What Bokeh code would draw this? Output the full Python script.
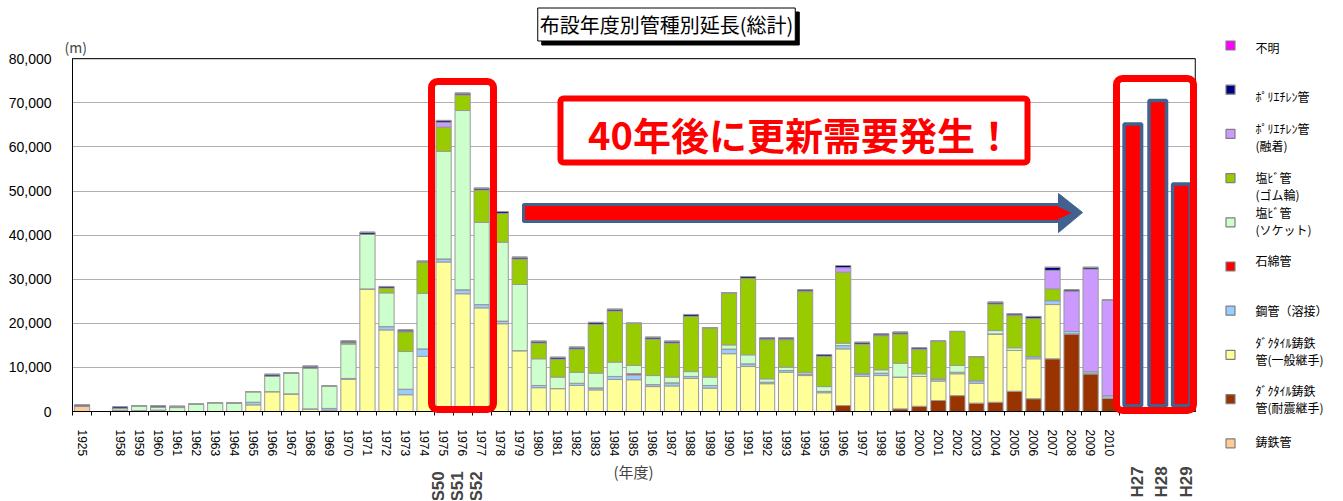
import math
from bokeh.plotting import figure
from bokeh.models import (ColumnDataSource, FixedTicker, SingleIntervalTicker,
                          NumeralTickFormatter, Label, BoxAnnotation, Range1d)
from bokeh.core.properties import value
from bokeh.embed import file_html
from bokeh.resources import INLINE

# ---------------- data ----------------
years = ["1925", ""] + [str(y) for y in range(1958, 2011)]

series_names = ["鋳鉄管", "ﾀﾞｸﾀｲﾙ鋳鉄管(耐震継手)", "ﾀﾞｸﾀｲﾙ鋳鉄管(一般継手)", "鋼管（溶接）",
                "石綿管", "塩ﾋﾞ管(ソケット)", "塩ﾋﾞ管(ゴム輪)", "ﾎﾟﾘｴﾁﾚﾝ管(融着)",
                "ﾎﾟﾘｴﾁﾚﾝ管", "不明"]
colors = ["#FFCC99", "#993300", "#FFFF99", "#99CCFF", "#FF0000",
          "#CCFFCC", "#99CC00", "#CC99FF", "#000080", "#FF00FF"]

# values per year (m), order of years list
cast_iron = [1200, 0, 300, 200, 300] + [0] * 50
ductile_seismic = [0] * 40 + [1350, 0, 0, 600, 1200, 2500, 3600, 1900, 2100, 4600,
                              2900, 11950, 17600, 8550, 3000]
ductile_general = [0, 0, 0, 0, 0, 0, 0, 0, 0, 1500,
                   4500, 4000, 600, 300, 7300, 27800, 18500, 3800, 12500, 33900,
                   26700, 23500, 19900, 13800, 5400, 5200, 5900, 4900, 7250, 7200,
                   5650, 5800, 7500, 5300, 13100, 10200, 6300, 8900, 8150, 4250,
                   12850, 7950, 8150, 7200, 6750, 4400, 4950, 4500, 15500, 9250,
                   9050, 12300, 0, 0, 0]
steel = [0, 0, 0, 0, 0, 0, 0, 0, 0, 600,
         0, 0, 0, 400, 200, 0, 750, 1250, 1700, 700,
         900, 750, 600, 0, 500, 0, 500, 450, 700, 1100,
         450, 700, 450, 600, 1050, 600, 350, 400, 350, 300,
         750, 600, 550, 0, 0, 500, 350, 600, 0, 0,
         500, 900, 550, 500, 600]
asbestos = [0] * 29 + [300] + [0] * 25
pvc_socket = [0, 0, 400, 1100, 700, 900, 1650, 2000, 1900, 2400,
              3550, 4750, 9300, 5100, 7800, 12400, 7650, 8550, 12600, 24400,
              40650, 18650, 17900, 15000, 6050, 2600, 2500, 3350, 3250, 1850,
              2050, 1300, 1100, 1900, 950, 2050, 750, 750, 400, 1100,
              550, 0, 750, 3150, 600, 0, 1550, 0, 750, 600,
              0, 0, 0, 0, 0]
pvc_rubber = [0] * 14 + [300, 0, 1100, 4500, 7000, 5500,
                         3550, 7350, 6550, 5800, 3600, 4100, 5300, 11100, 11600, 9550,
                         8300, 7750, 12550, 11200, 11800, 17350, 8900, 6250, 18300, 6850,
                         16100, 6750, 7750, 6650, 5500, 8550, 7700, 5450, 6050, 7300,
                         8700, 2650, 0, 0, 0]
pe_fused = [0] * 19 + [1100] + [0] * 20 + [1000] + [0] * 10 + [4200, 9050, 23250, 21700]
pe = [300, 0, 400, 0, 300, 300, 0, 0, 0, 0,
      400, 0, 400, 0, 400, 450, 350, 400, 300, 400,
      400, 400, 400, 400, 400, 400, 400, 400, 400, 0,
      400, 400, 400, 0, 0, 400, 400, 400, 400, 400,
      500, 400, 400, 400, 400, 0, 0, 0, 400, 400,
      400, 700, 400, 400, 0]
unknown = [0] * 55

future_labels = ["H27", "H28", "H29"]
future_values = [65200, 70500, 51600]
peak_labels = ["S50", "S51", "S52"]
peak_years = ["1975", "1976", "1977"]

legend_lines = [["不明"], ["ﾎﾟﾘｴﾁﾚﾝ管"], ["ﾎﾟﾘｴﾁﾚﾝ管", "(融着)"], ["塩ﾋﾞ管", "(ゴム輪)"],
                ["塩ﾋﾞ管", "(ソケット)"], ["石綿管"], ["鋼管（溶接）"],
                ["ﾀﾞｸﾀｲﾙ鋳鉄", "管(一般継手)"], ["ﾀﾞｸﾀｲﾙ鋳鉄", "管(耐震継手)"], ["鋳鉄管"]]

# ---------------- geometry helpers (pixel -> data) ----------------
W, H = 1340, 500
SLOT = 19.03
X0, Y0, YSCALE = 72, 411, 44.1

def xpx(px):
    return (px - X0) / SLOT - 0.5

def ypx(py):
    return (Y0 - py) / YSCALE * 10000

N_SLOTS = len(years) + 4
p = figure(width=W, height=H, x_range=Range1d(xpx(0), xpx(W)),
           y_range=Range1d(ypx(H), ypx(0)), toolbar_location=None, output_backend="svg",
           min_border=0, min_border_left=0, min_border_right=0, min_border_top=0,
           min_border_bottom=0, background_fill_color="white",
           border_fill_color="white")
p.outline_line_color = None

XL, XR = -0.5, N_SLOTS - 0.5

# grid limited to plot area
p.xgrid.grid_line_color = None
p.ygrid.ticker = SingleIntervalTicker(interval=10000)
p.ygrid.grid_line_color = "#B0B0B0"
p.ygrid.bounds = (0, 80000)
p.ygrid.cross_bounds = (XL, XR)

# bars
xs = list(range(len(years)))
cols = {"x": xs}
keys = ["s%d" % i for i in range(len(series_names))]
for k, arr in zip(keys, [cast_iron, ductile_seismic, ductile_general, steel, asbestos,
                         pvc_socket, pvc_rubber, pe_fused, pe, unknown]):
    cols[k] = arr
src = ColumnDataSource(cols)
p.vbar_stack(keys, x="x", width=0.8, color=colors, source=src,
             line_color="#999999", line_width=1)

# future bars (H27-H29)
fx = [55.22, 56.53, 57.77]
p.vbar(x=fx, top=future_values, bottom=1300, width=0.92, fill_color="#FF0000",
       line_color="#41618F", line_width=3.5)

# plot-area border
p.add_layout(BoxAnnotation(left=XL, right=XR, bottom=0, top=80000, fill_alpha=0,
                           line_color="black", line_alpha=1, line_width=1, level="underlay"))

# axes drawn at fixed data locations
p.yaxis.fixed_location = XL
p.yaxis.bounds = (0, 80000)
p.yaxis.ticker = SingleIntervalTicker(interval=10000)
p.yaxis.formatter = NumeralTickFormatter(format="0,0")
p.yaxis.major_tick_line_color = None
p.yaxis.minor_tick_line_color = None
p.yaxis.major_label_standoff = 15
p.yaxis.major_label_text_font = "Liberation Sans"
p.yaxis.major_label_text_font_size = "14px"
p.yaxis.major_label_text_color = "black"
p.yaxis.axis_line_color = "black"

p.xaxis.fixed_location = 0
p.xaxis.bounds = (XL, XR)
p.xaxis.ticker = FixedTicker(ticks=xs, minor_ticks=[i - 0.5 for i in range(len(years) + 1)])
p.xaxis.major_label_overrides = {i: years[i] for i in xs}
p.xaxis.major_label_orientation = "vertical"
p.xaxis.major_tick_line_color = None
p.xaxis.minor_tick_out = 4
p.xaxis.minor_tick_in = 0
p.xaxis.minor_tick_line_color = "black"
p.xaxis.major_label_standoff = 12
p.xaxis.major_label_text_font = "Liberation Sans"
p.xaxis.major_label_text_font_size = "12px"
p.xaxis.major_label_text_color = "black"
p.xaxis.axis_line_color = "black"

jp = "Noto Sans CJK JP"

# unit label and axis title
p.add_layout(Label(x=xpx(64), y=ypx(46), text="(m)", text_font=jp,
                   text_font_size="14px", text_baseline="middle", text_align="left"))
p.add_layout(Label(x=xpx(633), y=ypx(471), text="(年度)", text_font=jp,
                   text_font_size="15px", text_baseline="middle", text_align="center"))

# chart title with shadow
p.add_layout(Label(x=xpx(670), y=ypx(28), text="布設年度別管種別延長(総計)", text_font=jp,
                   text_font_size="20px", text_align="center", text_baseline="middle",
                   text_color="black", background_fill_color="black",
                   border_line_color="black", padding=2))
p.add_layout(Label(x=xpx(666), y=ypx(24), text="布設年度別管種別延長(総計)", text_font=jp,
                   text_font_size="20px", text_align="center", text_baseline="middle",
                   text_color="black", background_fill_color="white",
                   border_line_color="black", border_line_width=1, padding=2))

# red highlight boxes
p.add_layout(BoxAnnotation(left=xpx(431), right=xpx(493), top=ypx(81), bottom=ypx(409),
                           fill_alpha=0, line_color="#FF0000", line_alpha=1, line_width=7,
                           border_radius=6))
p.add_layout(BoxAnnotation(left=xpx(1116), right=xpx(1193), top=ypx(78), bottom=ypx(410),
                           fill_alpha=0, line_color="#FF0000", line_alpha=1, line_width=7,
                           border_radius=6))

# callout
p.add_layout(BoxAnnotation(left=xpx(560), right=xpx(1027), top=ypx(98), bottom=ypx(162),
                           fill_color="white", fill_alpha=1, line_color="#FF0000",
                           line_alpha=1, line_width=6, border_radius=3))
p.add_layout(Label(x=xpx(800), y=ypx(133), text="40年後に更新需要発生！", text_font=jp,
                   text_font_size="38px", text_font_style="bold", text_color="#FF0000",
                   text_align="center", text_baseline="middle"))

# arrow
p.quad(left=[xpx(523)], right=[xpx(1060)], top=[ypx(204)], bottom=[ypx(221)],
       fill_color="#FF0000", line_color="#41618F", line_width=3)
p.patch([xpx(1058), xpx(1082), xpx(1058)], [ypx(193), ypx(212), ypx(232)],
        fill_color="#41618F", line_color="#41618F", line_width=1)
p.patch([xpx(1057), xpx(1071), xpx(1057)], [ypx(206), ypx(212.5), ypx(219)],
        fill_color="#FF0000", line_color=None)

# bold era labels below
for lab, yr in zip(peak_labels, peak_years):
    p.add_layout(Label(x=years.index(yr) - 0.25, y=ypx(501), text=lab, angle=math.pi / 2,
                       text_font="Liberation Sans", text_font_size="17px",
                       text_font_style="bold", text_align="left", text_baseline="middle"))
for lab, xv in zip(future_labels, [55.45, 56.75, 58.05]):
    p.add_layout(Label(x=xv, y=ypx(497), text=lab, angle=math.pi / 2,
                       text_font="Liberation Sans", text_font_size="17px",
                       text_font_style="bold", text_align="left", text_baseline="middle"))

# ---------------- legend (right side) ----------------
legend_order = list(range(len(series_names)))[::-1]
marker_py = [45 + 44.2 * j for j in range(len(legend_order))]
p.scatter(x=[xpx(1230)] * len(legend_order), y=[ypx(v) for v in marker_py],
          marker="square", size=9, fill_color=[colors[k] for k in legend_order],
          line_color="#7F7F7F", line_width=1.2)

first_line_py = [47, 96, 128, 177, 212, 260, 310, 342, 390, 441]
tx, ty, tt = [], [], []
for j, lines in enumerate(legend_lines):
    for n, line in enumerate(lines):
        tx.append(xpx(1255))
        ty.append(ypx(first_line_py[j] + 17 * n))
        tt.append(line)
p.text(x=tx, y=ty, text=tt, text_font=value(jp), text_font_size="12px",
       text_baseline="middle", text_align="left", text_color="black")

open("out.html", "w").write(file_html(p, INLINE))
